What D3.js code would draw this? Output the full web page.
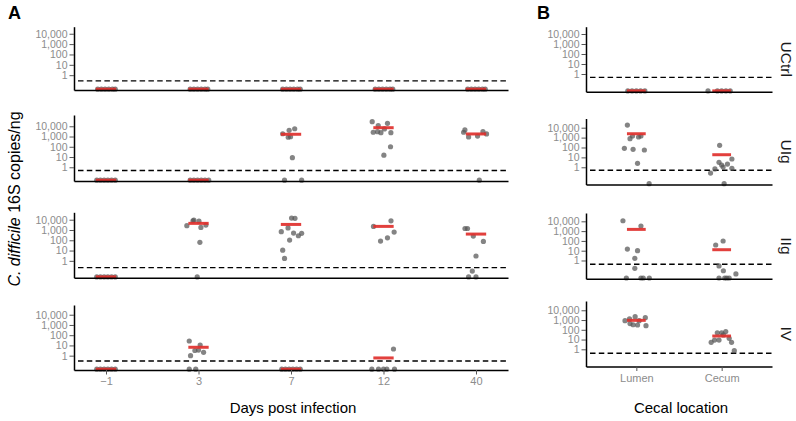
<!DOCTYPE html>
<html><head><meta charset="utf-8">
<script src="https://cdn.jsdelivr.net/npm/d3@7"></script>
<style>
html,body{margin:0;padding:0;background:#fff;}
svg{display:block;font-family:"Liberation Sans",Arial,Helvetica,sans-serif;}
</style></head>
<body><svg id="chart" width="796" height="421"></svg>
<script>
// ---------------- DATA ----------------
const days = ["\u22121", "3", "7", "12", "40"];
const locations = ["Lumen", "Cecum"];
const groups = ["UCtrl", "UIg", "IIg", "IV"];
const yTicks = [1, 10, 100, 1000, 10000];

// points: [category, jitter (fraction of category step), copies/ng]  (0 = not detected)
const daysUCtrl = [
  ["\u22121",-0.09,0],["\u22121",-0.05,0],["\u22121",-0.01,0],["\u22121",0.03,0],["\u22121",0.07,0],["\u22121",0.1,0],
  ["3",-0.09,0],["3",-0.05,0],["3",-0.01,0],["3",0.03,0],["3",0.07,0],["3",0.1,0],
  ["7",-0.09,0],["7",-0.05,0],["7",-0.01,0],["7",0.03,0],["7",0.07,0],["7",0.1,0],
  ["12",-0.09,0],["12",-0.05,0],["12",-0.01,0],["12",0.03,0],["12",0.07,0],["12",0.1,0],
  ["40",-0.09,0],["40",-0.05,0],["40",-0.01,0],["40",0.03,0],["40",0.07,0],["40",0.1,0]
];
const daysUIg = [
  ["\u22121",-0.1,0],["\u22121",-0.06,0],["\u22121",-0.02,0],["\u22121",0.02,0],["\u22121",0.06,0],["\u22121",0.1,0],
  ["3",-0.09,0],["3",-0.05,0],["3",-0.01,0],["3",0.03,0],["3",0.07,0],["3",0.11,0],
  ["7",-0.09,1860],["7",-0.02,4000],["7",0.04,5750],["7",-0.03,850],["7",-0.005,950],["7",0.015,8.7],["7",-0.07,0],["7",0.115,0],
  ["12",-0.122,28000],["12",-0.057,11500],["12",0.043,19500],["12",-0.111,2600],["12",-0.065,2950],["12",-0.028,2400],
  ["12",0.08,2400],["12",0.01,5500],["12",0.076,100],["12",0.004,15],
  ["40",-0.134,2600],["40",-0.12,4400],["40",-0.08,910],["40",0.017,1100],["40",0.075,2950],["40",0.114,1800],["40",0.036,0]
];
const daysIIg = [
  ["\u22121",-0.1,0],["\u22121",-0.06,0],["\u22121",-0.02,0],["\u22121",0.02,0],["\u22121",0.06,0],["\u22121",0.1,0],
  ["3",-0.126,2600],["3",-0.06,7800],["3",-0.05,9100],["3",0.005,7250],["3",0.026,1780],["3",0.08,3000],["3",0.015,63],["3",-0.014,0],
  ["7",-0.105,680],["7",-0.032,1600],["7",0.006,14500],["7",0.043,13500],["7",0.028,500],["7",-0.015,105],
  ["7",0.08,275],["7",0.115,470],["7",-0.09,11],["7",-0.07,1.7],
  ["12",-0.108,2240],["12",0.081,7800],["12",0.115,630],["12",-0.032,83],["12",0.043,174],
  ["40",-0.119,1400],["40",-0.092,1400],["40",-0.029,257],["40",0.08,78],["40",0.0,2.95],["40",-0.04,0.1],["40",-0.08,0],["40",0.0,0]
];
const daysIV = [
  ["\u22121",-0.1,0],["\u22121",-0.06,0],["\u22121",-0.02,0],["\u22121",0.02,0],["\u22121",0.06,0],["\u22121",0.1,0],
  ["3",-0.1,27],["3",-0.086,1.0],["3",-0.039,3.2],["3",0.018,11],["3",0.0,3.5],["3",0.055,2.1],["3",-0.1,0],["3",-0.03,0],
  ["7",-0.1,0],["7",-0.06,0],["7",-0.02,0],["7",0.02,0],["7",0.06,0],["7",0.1,0],
  ["12",0.108,4.5],["12",-0.126,0],["12",-0.054,0],["12",0.0,0],["12",0.036,0],["12",0.119,0]
];
const cecalUCtrl = [
  ["Lumen",-0.1,0],["Lumen",-0.05,0],["Lumen",0,0],["Lumen",0.05,0],["Lumen",0.1,0],
  ["Cecum",-0.16,0],["Cecum",-0.05,0],["Cecum",0,0],["Cecum",0.05,0],["Cecum",0.1,0]
];
const cecalUIg = [
  ["Lumen",-0.105,18600],["Lumen",-0.074,776],["Lumen",-0.045,1450],["Lumen",0.026,1150],["Lumen",0.054,1450],
  ["Lumen",-0.14,83],["Lumen",-0.038,66],["Lumen",0.094,56],["Lumen",0.014,2.5],["Lumen",0.15,0],
  ["Cecum",-0.024,166],["Cecum",-0.13,0.26],["Cecum",-0.079,0.68],["Cecum",-0.031,3.2],["Cecum",0.0,1.7],
  ["Cecum",0.017,1.07],["Cecum",0.068,2.1],["Cecum",0.12,6.9],["Cecum",0.12,0.8],["Cecum",0.029,0]
];
const cecalIIg = [
  ["Lumen",-0.157,11500],["Lumen",0.054,3300],["Lumen",-0.105,14.8],["Lumen",0.014,10],["Lumen",-0.018,1.66],["Lumen",-0.018,0.16],
  ["Lumen",-0.117,0],["Lumen",0.054,0],["Lumen",0.081,0],["Lumen",0.152,0],
  ["Cecum",-0.07,38],["Cecum",0.017,98],["Cecum",-0.031,0.28],["Cecum",0.02,0.09],["Cecum",0.167,0.042],
  ["Cecum",-0.031,0],["Cecum",0.036,0],["Cecum",0.06,0],["Cecum",0.088,0]
];
const cecalIV = [
  ["Lumen",-0.133,850],["Lumen",-0.08,1290],["Lumen",-0.074,430],["Lumen",-0.038,330],["Lumen",-0.014,2190],
  ["Lumen",0.014,310],["Lumen",0.033,850],["Lumen",0.105,1740],["Lumen",0.113,263],
  ["Cecum",-0.123,5.2],["Cecum",-0.083,8.9],["Cecum",-0.051,50],["Cecum",-0.031,8.9],["Cecum",0.0,50],
  ["Cecum",0.02,29.5],["Cecum",0.048,65],["Cecum",0.088,13.5],["Cecum",0.116,5.2],["Cecum",0.148,0.72]
];

// medians per category (null = none)
const daysMedUCtrl = [0, 0, 0, 0, 0];
const daysMedUIg   = [0, 0, 1660, 7250, 1780];
const daysMedIIg   = [0, 4400, 3470, 2240, 400];
const daysMedIV    = [0, 6.6, 0, 0.6, null];
const cecalMedUCtrl = [0, 0];
const cecalMedUIg   = [2450, 18.6];
const cecalMedIIg   = [1500, 12.6];
const cecalMedIV    = [930, 23];

// limit of detection per row
const lodDays  = [0.28, 0.49, 0.22, 0.30];
const lodCecal = [0.46, 0.50, 0.42, 0.39];

// ---------------- LAYOUT ----------------
const svg = d3.select("#chart");
const rowsA = [ {b:90, t:26.7, lo:-1.43, hi:4.68}, {b:181, t:115, lo:-1.34, hi:5.1},
                {b:277.7, t:212.3, lo:-1.64, hi:4.72}, {b:370, t:305, lo:-1.40, hi:4.95} ];
const rowsB = [ {b:91.7, t:26.7, lo:-1.77, hi:4.73}, {b:184.5, t:118.5, lo:-1.74, hi:4.93},
                {b:278.8, t:213, lo:-1.87, hi:4.85}, {b:366.5, t:301, lo:-1.76, hi:4.95} ];

const panels = [
  {cats: days, x0: 74, x1: 508, pad: 0.346, rows: rowsA,
   pts: [daysUCtrl, daysUIg, daysIIg, daysIV], med: [daysMedUCtrl, daysMedUIg, daysMedIIg, daysMedIV],
   lod: lodDays, strip: false, title: "Days post infection"},
  {cats: locations, x0: 586, x1: 772, pad: 0.59, rows: rowsB,
   pts: [cecalUCtrl, cecalUIg, cecalIIg, cecalIV], med: [cecalMedUCtrl, cecalMedUIg, cecalMedIIg, cecalMedIV],
   lod: lodCecal, strip: true, title: "Cecal location"}
];

const tickColor = "#8c8c8c";
const fmt = d3.format(",");

panels.forEach(P => {
  const x = d3.scalePoint().domain(P.cats).range([P.x0, P.x1]).padding(P.pad);
  const step = x.step();
  P.rows.forEach((R, ri) => {
    const y = d3.scaleLog().domain([Math.pow(10, R.lo), Math.pow(10, R.hi)]).range([R.b, R.t]);
    const yv = v => v > 0 ? y(v) : R.b - 0.8;
    const g = svg.append("g");

    // LOD dashed line
    g.append("line").attr("x1", P.x0 + 4).attr("x2", P.x1)
      .attr("y1", y(P.lod[ri])).attr("y2", y(P.lod[ri]))
      .attr("stroke", "#000").attr("stroke-width", 1.4).attr("stroke-dasharray", "5.5,3.3");

    // points
    g.selectAll("circle.pt").data(P.pts[ri]).join("circle")
      .attr("class", "pt")
      .attr("cx", d => x(d[0]) + d[1] * step)
      .attr("cy", d => yv(d[2]))
      .attr("r", 2.6)
      .attr("fill", "#555").attr("fill-opacity", 0.72);

    // medians
    const meds = P.cats.map((c, i) => [c, P.med[ri][i]]).filter(d => d[1] !== null);
    g.selectAll("line.med").data(meds).join("line")
      .attr("class", "med")
      .attr("x1", d => x(d[0]) - 0.11 * step).attr("x2", d => x(d[0]) + 0.11 * step)
      .attr("y1", d => yv(d[1])).attr("y2", d => yv(d[1]))
      .attr("stroke", "#e0302c").attr("stroke-width", 3).attr("stroke-opacity", 0.92);

    // y axis
    const ya = g.append("g").attr("transform", `translate(${P.x0},0)`)
      .call(d3.axisLeft(y).tickValues(yTicks).tickFormat(fmt).tickSize(4.5).tickSizeOuter(0).tickPadding(2));
    ya.select(".domain").attr("stroke", "#000").attr("stroke-width", 1.5);
    ya.selectAll(".tick line").attr("stroke", "#555").attr("stroke-width", 1);
    ya.selectAll(".tick text").attr("fill", tickColor).attr("font-size", 10.5)
      .attr("font-family", "Liberation Sans, Arial, sans-serif");

    // x axis
    const last = ri === P.rows.length - 1;
    const xa = g.append("g").attr("transform", `translate(0,${R.b})`)
      .call(d3.axisBottom(x).tickSize(last ? 4.5 : 0).tickSizeOuter(0).tickPadding(3));
    xa.select(".domain").attr("stroke", "#000").attr("stroke-width", 1.5);
    xa.selectAll(".tick line").attr("stroke", "#555").attr("stroke-width", 1);
    xa.selectAll(".tick text").attr("fill", tickColor).attr("font-size", 11)
      .attr("font-family", "Liberation Sans, Arial, sans-serif")
      .style("display", last ? null : "none");

    // strip label
    if (P.strip) {
      const cy = (R.b + R.t) / 2;
      svg.append("text").attr("transform", `translate(781,${cy}) rotate(90)`)
        .attr("text-anchor", "middle").attr("font-size", 15.5).attr("fill", "#1a1a1a")
        .text(groups[ri]);
    }
  });
  // x title
  svg.append("text").attr("x", (P.x0 + P.x1) / 2 + 2).attr("y", 413)
    .attr("text-anchor", "middle").attr("font-size", 15).attr("fill", "#000").text(P.title);
});

// panel letters
svg.append("text").attr("x", 8).attr("y", 19).attr("font-size", 18).attr("font-weight", "bold").text("A");
svg.append("text").attr("x", 537).attr("y", 19).attr("font-size", 18).attr("font-weight", "bold").text("B");

// y title
const yt = svg.append("text").attr("transform", "translate(20,199) rotate(-90)")
  .attr("text-anchor", "middle").attr("font-size", 16).attr("fill", "#000");
yt.append("tspan").attr("font-style", "italic").text("C. difficile");
yt.append("tspan").text(" 16S copies/ng");
</script>
</body></html>
